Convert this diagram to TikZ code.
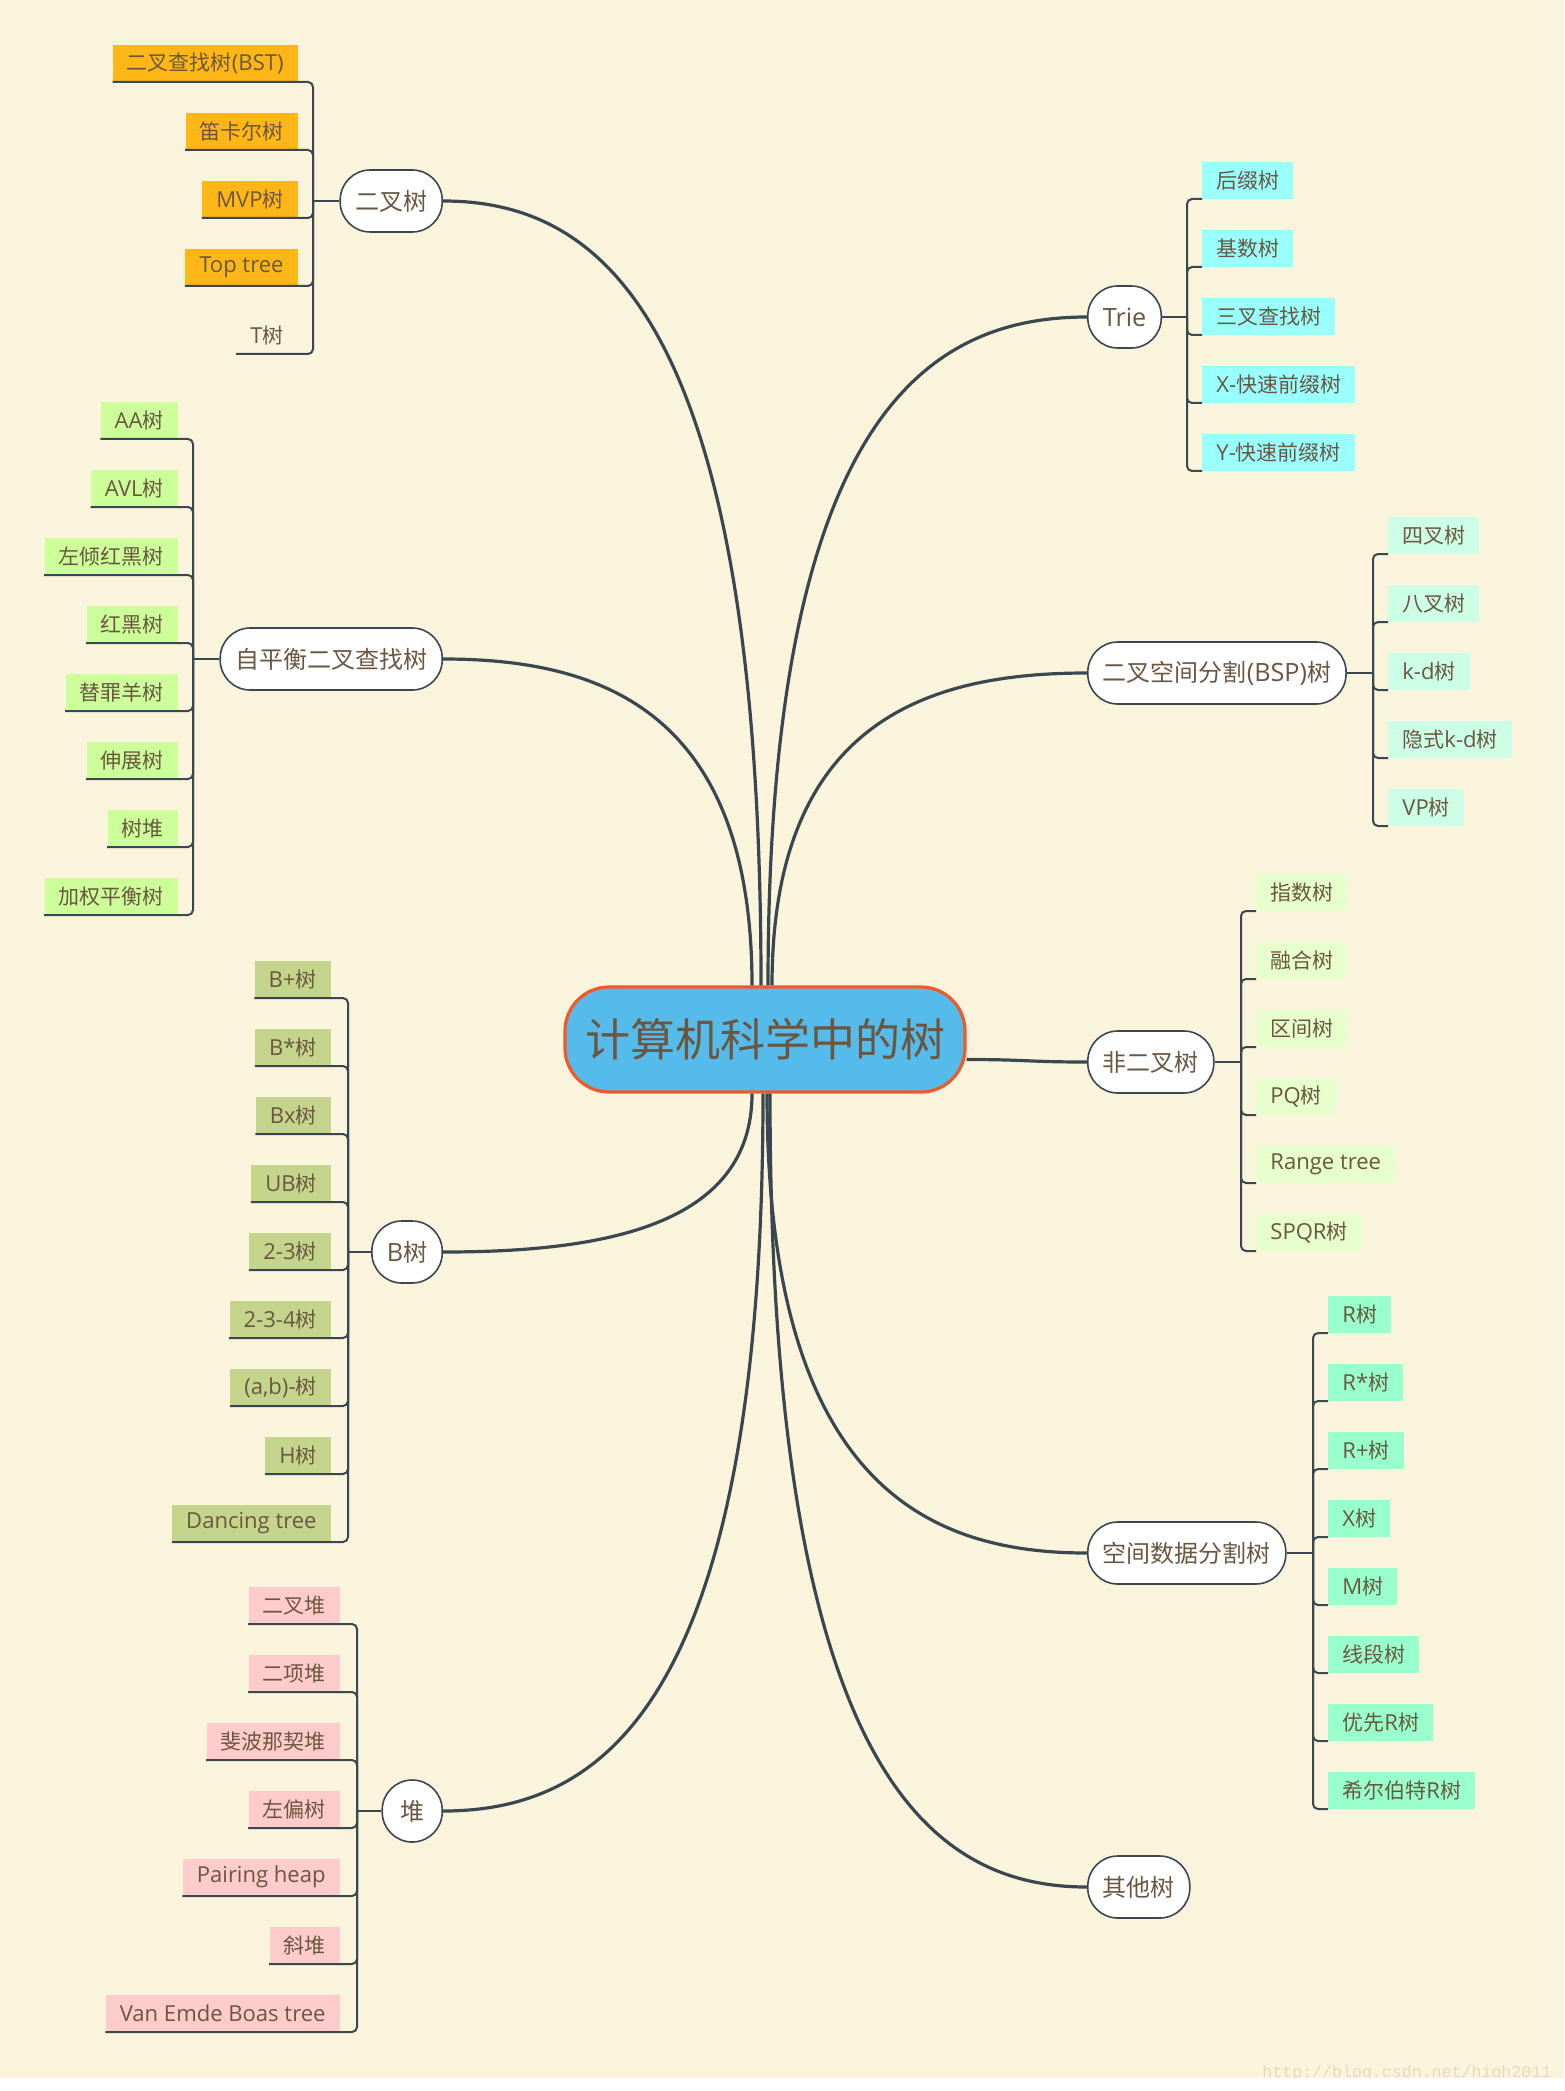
\documentclass[tikz,border=0pt]{standalone}
\usepackage{fontspec}
\setmainfont{Noto Sans CJK SC}
\newfontfamily\latf[Scale=1.05]{Open Sans}
\newfontfamily\wmfont{Liberation Mono}
\usetikzlibrary{calc}

\definecolor{bg}{HTML}{FBF4DC}
\definecolor{ink}{HTML}{6B5741}
\definecolor{wire}{HTML}{3B4750}
\definecolor{rootfill}{HTML}{55BBEA}
\definecolor{rootedge}{HTML}{F05A28}
\definecolor{cOrange}{HTML}{FEB716}
\definecolor{cLime}{HTML}{CCFF99}
\definecolor{cOlive}{HTML}{C4D48B}
\definecolor{cPink}{HTML}{FFCCCC}
\definecolor{cCyan}{HTML}{99FFFF}
\definecolor{cMint}{HTML}{CCFFE6}
\definecolor{cPale}{HTML}{E6FFCC}
\definecolor{cAqua}{HTML}{99FFCC}
\definecolor{wm}{HTML}{E3DAC6}

% Latin runs inside CJK labels
\newcommand\la[1]{{\latf #1}}
% curved branch from the root to a topic node
\newcommand\branchcurve[2]{%
  \draw[mainline] (#1) .. controls ($(#1 |- #2)!0.15!(#1)$) and ($(#2)!0.5!(#1 |- #2)$) .. (#2);}

\begin{document}
\begin{tikzpicture}[x=0.5pt, y=-0.5pt,
  leaf/.style={inner xsep=7pt, inner ysep=0pt, minimum height=18.5pt,
    text=ink, font=\fontsize{10.5}{12}\selectfont},
  twig/.style={draw=wire, line width=1pt, rounded corners=2.5pt},
  stub/.style={draw=wire, line width=1.4pt},
  mainline/.style={draw=wire, line width=1.6pt},
  hub/.style={draw=wire, line width=0.8pt, fill=white, rounded corners=15pt,
    minimum height=31pt, minimum width=30pt, inner xsep=7.5pt, inner ysep=0pt,
    text=ink, font=\fontsize{12}{14}\selectfont},
  root/.style={draw=rootedge, line width=1.6pt, fill=rootfill, rounded corners=22pt,
    minimum width=200pt, minimum height=52.5pt, inner sep=0pt,
    text=ink, font=\fontsize{22.5}{26}\selectfont}]

% page
\useasboundingbox (0,0) rectangle (1564,2091);
\fill[bg] (0,0) rectangle (1564,2078);
\node[anchor=base west, inner sep=0pt, text=wm, font=\wmfont\fontsize{8.3}{10}\selectfont]
  (mark) at (1262,2077) {http://blog.csdn.net/high2011};
\fill[white] (0,2078) rectangle (1564,2091);

% root and topics
\node[root] (c) at (765,1039.5) {计算机科学中的树};

\node[hub, anchor=east] (n1) at (443,201) {二叉树};
\node[hub, anchor=east] (n2) at (443,659) {自平衡二叉查找树};
\node[hub, anchor=east] (n3) at (443,1252) {\la{B}树};
\node[hub, anchor=east] (n4) at (443,1811) {堆};

\node[hub, anchor=west] (r1) at (1087,317) {\la{Trie}};
\node[hub, anchor=west] (r2) at (1087,673) {二叉空间分割\la{(BSP)}树};
\node[hub, anchor=west] (r3) at (1087,1062) {非二叉树};
\node[hub, anchor=west] (r4) at (1087,1553) {空间数据分割树};
\node[hub, anchor=west] (r5) at (1087,1887) {其他树};

% start points of the branches on the root
\coordinate (s2) at ([xshift=-6.5pt]c.north);
\coordinate (s1) at ([xshift=-2pt]c.north);
\coordinate (s5) at ([xshift=1.5pt]c.north);
\coordinate (s6) at ([xshift=3.5pt]c.north);
\coordinate (s3) at ([xshift=-6.5pt]c.south);
\coordinate (s4) at ([xshift=-1pt]c.south);
\coordinate (s8) at ([xshift=1pt]c.south);
\coordinate (s9) at ([xshift=2.5pt]c.south);
\coordinate (s7) at ([yshift=-10pt]c.east);

\branchcurve{s1}{n1.east}
\branchcurve{s2}{n2.east}
\branchcurve{s3}{n3.east}
\branchcurve{s4}{n4.east}
\branchcurve{s5}{r1.west}
\branchcurve{s6}{r2.west}
\branchcurve{s8}{r4.west}
\branchcurve{s9}{r5.west}
\draw[mainline] (s7) .. controls +(60,0) and +(-60,0) .. (r3.west);

% bracket junctions
\coordinate (j1) at (313,201);
\coordinate (j2) at (193,659);
\coordinate (j3) at (348,1252);
\coordinate (j4) at (357,1811);
\coordinate (k1) at (1187,317);
\coordinate (k2) at (1373,673);
\coordinate (k3) at (1241,1062);
\coordinate (k4) at (1313,1553);

\draw[stub] (n1.west) -- (j1);
\draw[stub] (n2.west) -- (j2);
\draw[stub] (n3.west) -- (j3);
\draw[stub] (n4.west) -- (j4);
\draw[stub] (r1.east) -- (k1);
\draw[stub] (r2.east) -- (k2);
\draw[stub] (r3.east) -- (k3);
\draw[stub] (r4.east) -- (k4);

% binary trees
\foreach \t [count=\i from 0] in {{二叉查找树\la{(BST)}},{笛卡尔树},{\la{MVP}树},{\la{Top tree}}} {
  \node[leaf, fill=cOrange, anchor=south east] (a\i) at (298,82+68*\i) {\t};
  \draw[twig] (j1) |- (a\i.south east) -- (a\i.south west);
}
\node[leaf, anchor=south east] (a4) at (298,354) {\la{T}树};
\draw[twig] (j1) |- (a4.south east) -- (a4.south west);

% self-balancing search trees
\foreach \t [count=\i from 0] in {{\la{AA}树},{\la{AVL}树},{左倾红黑树},{红黑树},{替罪羊树},{伸展树},{树堆},{加权平衡树}} {
  \node[leaf, fill=cLime, anchor=south east] (b\i) at (178,439+68*\i) {\t};
  \draw[twig] (j2) |- (b\i.south east) -- (b\i.south west);
}

% B-trees
\foreach \t [count=\i from 0] in {{\la{B+}树},{\la{B*}树},{\la{Bx}树},{\la{UB}树},{\la{2-3}树},{\la{2-3-4}树},{\la{(a,b)-}树},{\la{H}树},{\la{Dancing tree}}} {
  \node[leaf, fill=cOlive, anchor=south east] (d\i) at (331,998+68*\i) {\t};
  \draw[twig] (j3) |- (d\i.south east) -- (d\i.south west);
}

% heaps
\foreach \t [count=\i from 0] in {{二叉堆},{二项堆},{斐波那契堆},{左偏树},{\la{Pairing heap}},{斜堆},{\la{Van Emde Boas tree}}} {
  \node[leaf, fill=cPink, anchor=south east] (h\i) at (340,1624+68*\i) {\t};
  \draw[twig] (j4) |- (h\i.south east) -- (h\i.south west);
}

% tries
\foreach \t [count=\i from 0] in {{后缀树},{基数树},{三叉查找树},{\la{X-}快速前缀树},{\la{Y-}快速前缀树}} {
  \node[leaf, fill=cCyan, anchor=south west] (p\i) at (1202,199+68*\i) {\t};
  \draw[twig] (k1) |- (p\i.south west);
}

% space partitioning
\foreach \t [count=\i from 0] in {{四叉树},{八叉树},{\la{k-d}树},{隐式\la{k-d}树},{\la{VP}树}} {
  \node[leaf, fill=cMint, anchor=south west] (q\i) at (1388,554+68*\i) {\t};
  \draw[twig] (k2) |- (q\i.south west);
}

% non-binary trees
\foreach \t [count=\i from 0] in {{指数树},{融合树},{区间树},{\la{PQ}树},{\la{Range tree}},{\la{SPQR}树}} {
  \node[leaf, fill=cPale, anchor=south west] (u\i) at (1256,911+68*\i) {\t};
  \draw[twig] (k3) |- (u\i.south west);
}

% spatial data partitioning
\foreach \t [count=\i from 0] in {{\la{R}树},{\la{R*}树},{\la{R+}树},{\la{X}树},{\la{M}树},{线段树},{优先\la{R}树},{希尔伯特\la{R}树}} {
  \node[leaf, fill=cAqua, anchor=south west] (v\i) at (1328,1333+68*\i) {\t};
  \draw[twig] (k4) |- (v\i.south west);
}

\end{tikzpicture}
\end{document}
